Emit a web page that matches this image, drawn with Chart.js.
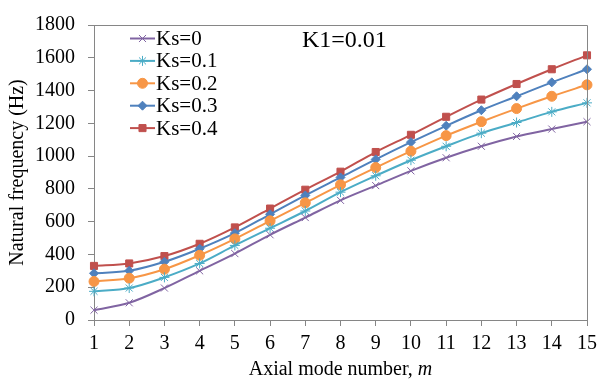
<!DOCTYPE html>
<html>
<head>
<meta charset="utf-8">
<script src="https://cdn.jsdelivr.net/npm/chart.js@4.4.0/dist/chart.umd.min.js"></script>
<style>
  html, body { margin: 0; padding: 0; background: #fff; }
  #wrap { width: 606px; height: 383px; position: relative; }
</style>
</head>
<body>
<div id="wrap"><canvas id="freqChart" width="606" height="383"></canvas></div>
<script>
// modos axiales
const modes = ["1","2","3","4","5","6","7","8","9","10","11","12","13","14","15"];
const yTicks = [0, 200, 400, 600, 800, 1000, 1200, 1400, 1600, 1800];

const ks0  = [60, 105, 195, 300, 405, 520, 625, 730, 820, 910, 990, 1060, 1120, 1165, 1210];
const ks01 = [175, 195, 260, 345, 455, 560, 665, 780, 880, 975, 1060, 1140, 1205, 1270, 1325];
const ks02 = [235, 255, 310, 395, 495, 605, 715, 825, 930, 1030, 1125, 1210, 1290, 1365, 1435];
const ks03 = [285, 300, 355, 435, 530, 645, 760, 870, 980, 1085, 1185, 1280, 1365, 1450, 1530];
const ks04 = [330, 345, 390, 465, 565, 680, 795, 905, 1025, 1130, 1240, 1345, 1440, 1530, 1615];

const serif = "'Liberation Serif', 'DejaVu Serif', serif";

const mkSet = (label, data, color, style, radius) => ({
    label: label,
    data: data,
    borderColor: color,
    backgroundColor: color,
    borderWidth: 2,
    pointStyle: style,
    pointRadius: radius,
    pointHoverRadius: radius,
    pointBorderWidth: 1,
    tension: 0.4,
    cubicInterpolationMode: "monotone",
});

// leyenda dentro del gráfico + marco + título del eje x
const extras = {
    id: "extras",
    afterDraw(chart) {
        const ctx = chart.ctx;
        const a = chart.chartArea;
        ctx.save();
        // marco superior y derecho
        ctx.strokeStyle = "#868686";
        ctx.lineWidth = 1;
        ctx.beginPath();
        ctx.moveTo(a.left, a.top + 0.5);
        ctx.lineTo(a.right + 0.5, a.top + 0.5);
        ctx.lineTo(a.right + 0.5, a.bottom);
        ctx.stroke();

        // leyenda
        ctx.font = "21px " + serif;
        ctx.textBaseline = "middle";
        ctx.textAlign = "left";
        chart.data.datasets.forEach((ds, i) => {
            const y = 38.5 + i * 22.4;
            ctx.strokeStyle = ds.borderColor;
            ctx.lineWidth = 2;
            ctx.beginPath();
            ctx.moveTo(130, y);
            ctx.lineTo(155, y);
            ctx.stroke();
            ctx.fillStyle = ds.backgroundColor;
            ctx.lineWidth = 1;
            Chart.helpers.drawPoint(ctx, { pointStyle: ds.pointStyle, radius: ds.pointRadius, rotation: 0, borderWidth: 1 }, 142.5, y);
            ctx.fillStyle = "#000";
            ctx.fillText(ds.label, 156, y + 1);
        });

        // anotación
        ctx.textBaseline = "alphabetic";
        ctx.font = "24px " + serif;
        ctx.fillText("K1=0.01", 302, 47);

        // título eje x con m en cursiva
        const t1 = "Axial mode number, ";
        const t2 = "m";
        ctx.font = "20px " + serif;
        const w1 = ctx.measureText(t1).width;
        ctx.font = "italic 20px " + serif;
        const w2 = ctx.measureText(t2).width;
        const x0 = (a.left + a.right) / 2 - (w1 + w2) / 2;
        ctx.fillStyle = "#000";
        ctx.font = "20px " + serif;
        ctx.fillText(t1, x0, 375);
        ctx.font = "italic 20px " + serif;
        ctx.fillText(t2, x0 + w1, 375);
        ctx.restore();
    }
};

new Chart(document.getElementById("freqChart").getContext("2d"), {
    type: "line",
    data: {
        labels: modes,
        datasets: [
            mkSet("Ks=0", ks0, "#8064A2", "crossRot", 5),
            mkSet("Ks=0.1", ks01, "#4BACC6", "star", 5),
            mkSet("Ks=0.2", ks02, "#F79646", "circle", 5),
            mkSet("Ks=0.3", ks03, "#4F81BD", "rectRot", 4.5),
            mkSet("Ks=0.4", ks04, "#C0504D", "rect", 5),
        ],
    },
    options: {
        responsive: false,
        animation: false,
        layout: { padding: { top: 14, right: 19, left: 0, bottom: 0 } },
        plugins: {
            legend: { display: false },
            tooltip: { enabled: false },
        },
        scales: {
            x: {
                type: "category",
                offset: false,
                afterFit: (s) => { s.height = 63; },
                grid: { display: true, drawOnChartArea: false, drawTicks: true, tickLength: 6, color: "#868686" },
                border: { display: true, color: "#868686" },
                ticks: { color: "#000", font: { family: serif, size: 20 }, padding: 6, maxRotation: 0, autoSkip: false },
                title: { display: false },
            },
            y: {
                min: 0,
                max: 1800,
                afterFit: (s) => { s.width = 94; },
                afterBuildTicks: (s) => { s.ticks = yTicks.map(v => ({ value: v })); },
                grid: { display: true, drawOnChartArea: false, drawTicks: true, tickLength: 6, color: "#868686" },
                border: { display: true, color: "#868686" },
                ticks: {
                    color: "#000",
                    font: { family: serif, size: 20 },
                    padding: 13,
                    callback: (v) => String(v),
                },
                title: {
                    display: true,
                    text: "Natural frequency (Hz)",
                    color: "#000",
                    font: { family: serif, size: 20 },
                    padding: { top: 6, bottom: 0 },
                },
            },
        },
    },
    plugins: [extras],
});
</script>
</body>
</html>
